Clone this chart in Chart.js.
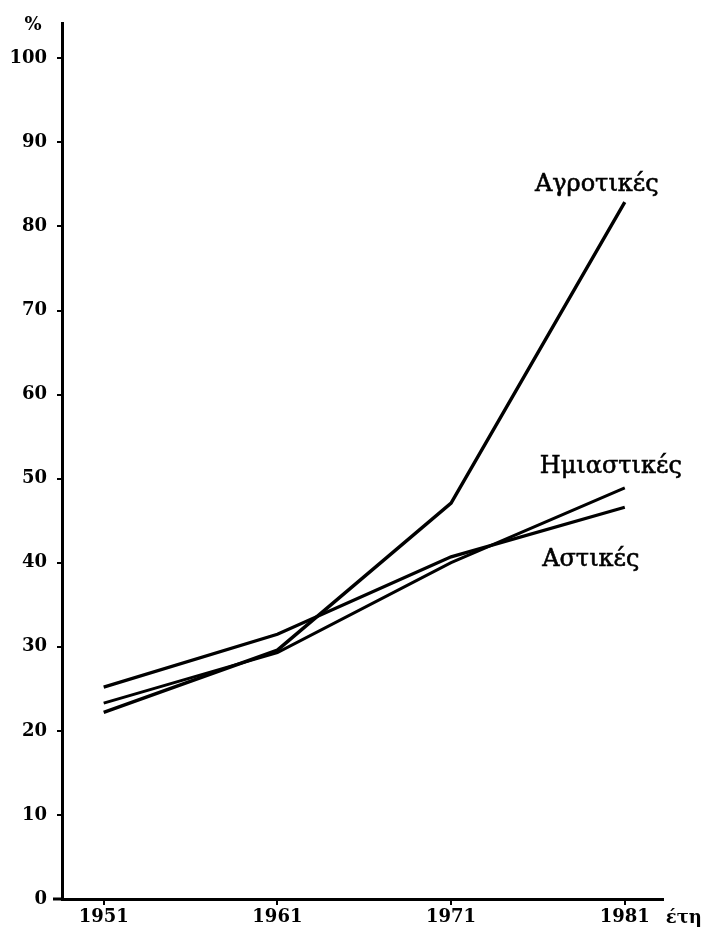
<!DOCTYPE html>
<html>
<head>
<meta charset="utf-8">
<script src="https://cdn.jsdelivr.net/npm/chart.js@4.4.1/dist/chart.umd.min.js"></script>
<style>
  html, body { margin: 0; padding: 0; background: #ffffff; }
  #wrap { width: 704px; height: 938px; position: relative; }
</style>
</head>
<body>
<div id="wrap"><canvas id="c" width="704" height="938"></canvas></div>
<script>
const years = [1951, 1961, 1971, 1981];
const yTicks = [0, 10, 20, 30, 40, 50, 60, 70, 80, 90, 100];
const seriesNames = ['Αγροτικές', 'Ημιαστικές', 'Αστικές'];
const agrotikes = [22.2, 29.6, 47.1, 82.9];
const imiastikes = [23.3, 29.3, 40.0, 48.9];
const astikes = [25.2, 31.5, 40.7, 46.6];
const yUnit = '%';
const xUnit = 'έτη';

const toPts = arr => years.map((y, i) => ({ x: y, y: arr[i] }));

const tickFont = { family: '"DejaVu Serif", serif', size: 18, weight: 'bold' };
const labelFont = '24px "DejaVu Serif", serif';

const labelPlugin = {
  id: 'labels',
  afterDraw(chart) {
    const { ctx, scales: { x, y } } = chart;
    ctx.save();
    ctx.fillStyle = '#000';
    ctx.strokeStyle = '#000';
    // x-axis stub left of the y-axis
    ctx.lineWidth = 3;
    ctx.beginPath();
    ctx.moveTo(x.left - 9, y.bottom);
    ctx.lineTo(x.left, y.bottom);
    ctx.stroke();
    // unit labels
    ctx.font = 'bold 18px "DejaVu Serif", serif';
    ctx.textAlign = 'center';
    ctx.textBaseline = 'middle';
    ctx.fillText(yUnit, x.left - 29, y.top + 2);
    ctx.font = 'bold 18px "DejaVu Serif", serif';
    ctx.textAlign = 'left';
    ctx.fillText(xUnit, x.getPixelForValue(years[3]) + 41, y.bottom + 19);
    // series labels
    ctx.font = labelFont;
    ctx.textAlign = 'center';
    ctx.textBaseline = 'middle';
    ctx.lineWidth = 0.6;
    const last = years[3];
    const put = (t, px, py) => { ctx.fillText(t, px, py); ctx.strokeText(t, px, py); };
    put(seriesNames[0], x.getPixelForValue(last) - 28, y.getPixelForValue(agrotikes[3]) - 17);
    put(seriesNames[1], x.getPixelForValue(last) - 14, y.getPixelForValue(imiastikes[3]) - 21);
    put(seriesNames[2], x.getPixelForValue(last) - 34, y.getPixelForValue(astikes[3]) + 53);
    ctx.restore();
  }
};

const lineDs = (label, data, w) => ({
  label, data: toPts(data),
  borderColor: '#000', borderWidth: w, pointRadius: 0,
  tension: 0, fill: false
});

new Chart(document.getElementById('c'), {
  type: 'line',
  data: {
    datasets: [
      lineDs(seriesNames[0], agrotikes, 3.4),
      lineDs(seriesNames[1], imiastikes, 3),
      lineDs(seriesNames[2], astikes, 3.2)
    ]
  },
  options: {
    responsive: false,
    animation: false,
    devicePixelRatio: 1,
    layout: { padding: { top: 23, right: 41, left: 0, bottom: 0 } },
    plugins: { legend: { display: false }, tooltip: { enabled: false } },
    scales: {
      x: {
        type: 'linear',
        min: 1948.6, max: 1983.2,
        afterBuildTicks: s => { s.ticks = years.map(v => ({ value: v })); },
        afterFit: s => { s.height = 39; },
        border: { display: true, color: '#000', width: 3 },
        grid: { drawOnChartArea: false, drawTicks: true, tickLength: 6, color: '#000', lineWidth: 2 },
        ticks: { color: '#000', font: tickFont, padding: 2, maxRotation: 0, callback: v => String(v) }
      },
      y: {
        type: 'linear',
        min: 0, max: 104.2,
        afterBuildTicks: s => { s.ticks = yTicks.map(v => ({ value: v })); },
        afterFit: s => { s.width = 62; },
        border: { display: true, color: '#000', width: 3 },
        grid: { drawOnChartArea: false, drawTicks: true, tickLength: 5, color: '#000', lineWidth: 2 },
        ticks: { color: '#000', font: tickFont, padding: 10, callback: v => String(v) }
      }
    }
  },
  plugins: [labelPlugin]
});
</script>
</body>
</html>
